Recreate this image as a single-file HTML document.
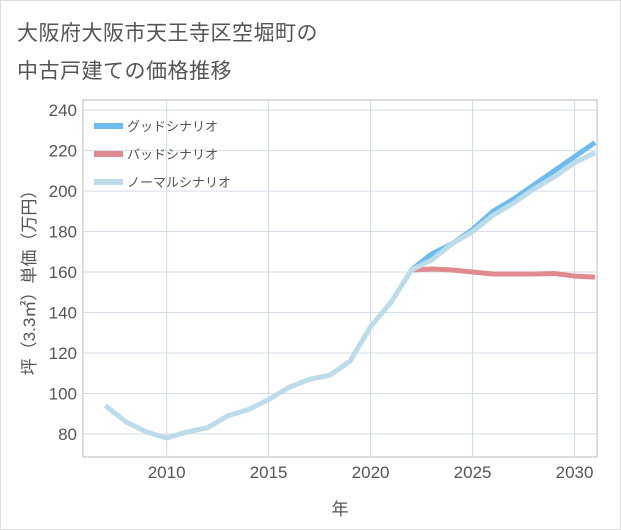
<!DOCTYPE html>
<html><head><meta charset="utf-8"><style>
body{margin:0;background:#fff;font-family:"Liberation Sans","Noto Sans CJK JP",sans-serif;}
#wrap{position:relative;width:619px;height:528px;border:1px solid #ddd;background:#fff;}
.title{position:absolute;left:16px;font-size:21px;color:#555;letter-spacing:0.5px;}
</style></head><body>
<div id="wrap">
<div class="title" style="top:16px">大阪府大阪市天王寺区空堀町の</div>
<div class="title" style="top:54px">中古戸建ての価格推移</div>
<svg id="chart" width="621" height="530" style="position:absolute;left:-1px;top:-1px"></svg>
</div>
<script>
const years=[2007,2008,2009,2010,2011,2012,2013,2014,2015,2016,2017,2018,2019,2020,2021,2022,2023,2024,2025,2026,2027,2028,2029,2030,2031];
const normalValues=[94,86,81,78,81,83,89,92,97,103,107,109,116,133,145,161,166,174,180,188,194,201,207,214,219];
const futureYears=[2022,2023,2024,2025,2026,2027,2028,2029,2030,2031];
const goodValues=[161,169,174,181,190,196,203,210,217,224];
const badValues=[161,161.5,161,160,159,159,159,159.3,158,157.5];
const yTicks=[80,100,120,140,160,180,200,220,240];
const xTicks=[2010,2015,2020,2025,2030];
const NS="http://www.w3.org/2000/svg";
const svg=document.getElementById('chart');
const L=83,R=597,T=100,B=457,x0=2005.9,x1=2031.1,y0=68.6,y1=245;
const sx=v=>L+(v-x0)/(x1-x0)*(R-L);
const sy=v=>B-(v-y0)/(y1-y0)*(B-T);
function mk(tag,attrs){const e=document.createElementNS(NS,tag);for(const k in attrs)e.setAttribute(k,attrs[k]);svg.appendChild(e);return e;}
const bg=mk('rect',{x:L,y:T,width:R-L,height:B-T,fill:'#fff',stroke:'#bbb'});


yTicks.forEach(v=>{
 const g=mk('line',{x1:L,x2:R,y1:sy(v),y2:sy(v),stroke:'#d5dde6','stroke-width':1});
 
 
 const t=mk('text',{x:L-6,y:sy(v)+6,'text-anchor':'end','font-size':17,fill:'#555'});
 t.textContent=v;
 
 
});
xTicks.forEach(v=>{
 const g=mk('line',{x1:sx(v),x2:sx(v),y1:T,y2:B,stroke:'#cbd9e6','stroke-width':1});
 
 
 const t=mk('text',{x:sx(v),y:B+21,'text-anchor':'middle','font-size':17,fill:'#555'});
 t.textContent=v;
 
 
});
function line(xs,ys,color,name){
 const p=mk('polyline',{points:xs.map((x,i)=>sx(x)+','+sy(ys[i])).join(' '),fill:'none',stroke:color,'stroke-width':5,'stroke-linejoin':'round'});
 
 
}
line(futureYears,goodValues,'#6cbcf0','good-scenario-line');
line(futureYears,badValues,'#e08a90','bad-scenario-line');
line(years,normalValues,'#bcdce9','normal-scenario-line');
const leg=[['グッドシナリオ','#6cbcf0'],['バッドシナリオ','#e08a90'],['ノーマルシナリオ','#bcdce9']];
leg.forEach((d,i)=>{
 const y=126+i*28;
 const r=mk('rect',{x:94,y:y-3,width:29,height:6,fill:d[1]});
 
 
 const t=mk('text',{x:127,y:y+5,'font-size':13,fill:'#555'});
 t.textContent=d[0];
 
 
});
const xl=mk('text',{x:(L+R)/2,y:515,'text-anchor':'middle','font-size':17,fill:'#555'});
xl.textContent='年';


const yl=mk('text',{x:0,y:0,'text-anchor':'middle','font-size':17,fill:'#555',transform:'translate(35,'+((T+B)/2)+') rotate(-90)'});
yl.textContent='坪（3.3㎡）単価（万円）';


</script>
</body></html>
